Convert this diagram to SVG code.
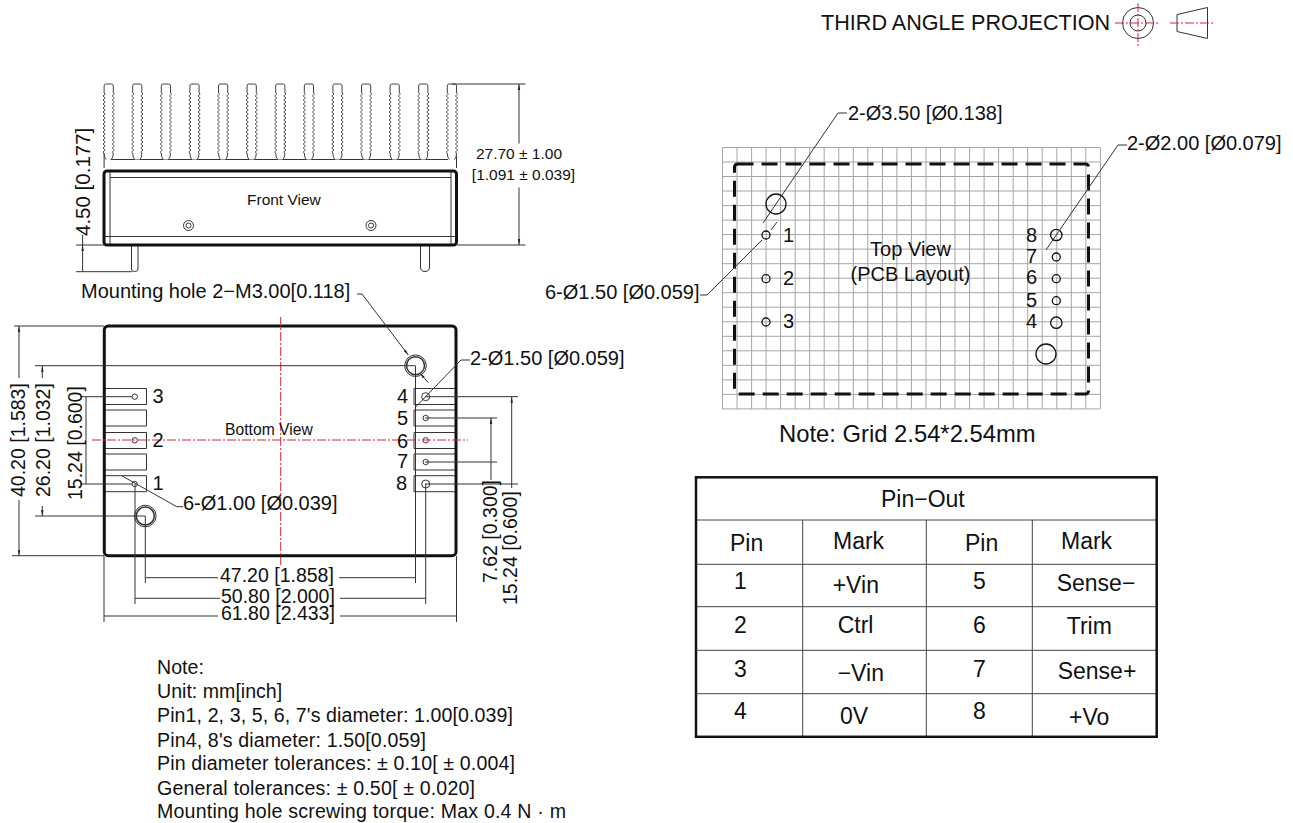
<svg xmlns="http://www.w3.org/2000/svg" width="1293" height="823" viewBox="0 0 1293 823">
<style>
text{font-family:"Liberation Sans",Arial,sans-serif;fill:#111;font-size:20px}
.s15{font-size:15.500px}.s23{font-size:23px}.d{font-size:19.500px}.n{font-size:19.600px}
.l{fill:none;stroke:#333;stroke-width:1}
.h{fill:none;stroke:#111;stroke-width:3;stroke-linejoin:round}
.p{fill:#fff;stroke:#333;stroke-width:1}
.b{fill:none;stroke:#111;stroke-width:1.300}
.r{fill:none;stroke:#d0283c;stroke-width:1;stroke-dasharray:9 2 2 2}
.grid{fill:none;stroke:#a5a5a5;stroke-width:1}
.t{fill:none;stroke:#444;stroke-width:1}
.a{marker-start:url(#arr)}
</style>
<defs>
<marker id="arr" viewBox="0 0 6 4" refX="0" refY="2" markerWidth="6" markerHeight="4" markerUnits="userSpaceOnUse" orient="auto"><path d="M0 2L6 0.800V3.200Z" fill="#222"/></marker>
<path id="fin" fill="#fff" stroke="#444" stroke-width="1" d="M-2.500 159.500Q-4.600 158-4.600 153q-2.200-1 0-2t0-2t0-2t0-2t0-2t0-2t0-2t0-2t0-2t0-2t0-2t0-2t0-2t0-2t0-2t0-2t0-2t0-2t0-2t0-2t0-2t0-2t0-2t0-2t0-2t0-2t0-2t0-2t0-2t0-2V86Q-4.600 84-3 84H3Q4.600 84 4.600 86V93q2.200 1 0 2t0 2t0 2t0 2t0 2t0 2t0 2t0 2t0 2t0 2t0 2t0 2t0 2t0 2t0 2t0 2t0 2t0 2t0 2t0 2t0 2t0 2t0 2t0 2t0 2t0 2t0 2t0 2t0 2t0 2Q4.600 158 2.500 159.500"/>
</defs>

<g id="projection-symbol">
<text x="821" y="30" style="font-size:21.600px">THIRD ANGLE PROJECTION</text>
<circle class="l" cx="1138" cy="23" r="15.500"/><circle class="l" cx="1138" cy="23" r="8"/>
<path class="l" d="M1177 14.500L1207.500 7.500V38.500L1177 31.500Z"/>
<path class="r" d="M1115 23H1160M1138 3V46M1170 23H1213"/>
</g>

<g id="front-view">
<path class="l" d="M110 159.500H448M104.100 153V168M456.500 153V168"/>
<use href="#fin" x="108.700"/><use href="#fin" x="137.300"/><use href="#fin" x="165.900"/><use href="#fin" x="194.500"/><use href="#fin" x="223.100"/><use href="#fin" x="251.700"/><use href="#fin" x="280.300"/><use href="#fin" x="308.900"/><use href="#fin" x="337.500"/><use href="#fin" x="366.100"/><use href="#fin" x="394.700"/><use href="#fin" x="423.300"/><use href="#fin" x="451.900"/>
<path class="p" d="M131.500 245V269Q131.500 271.500 134.500 271.500Q138 271.500 138 269V245M420.500 245V267Q420.500 271.500 425 271.500Q429.500 271.500 429.500 267V245Z"/>
<path class="l" d="M110 177.500H451M104.500 236.500H456M110 172V244M451 172V244"/>
<rect class="h" x="104" y="171" width="352.500" height="74" rx="3"/>
<circle class="l" cx="188.500" cy="225.500" r="5"/><circle class="l" cx="188.500" cy="225.500" r="2.500"/>
<circle class="l" cx="371" cy="225.500" r="5"/><circle class="l" cx="371" cy="225.500" r="2.500"/>
<text class="s15" x="247" y="205">Front View</text>
</g>

<g id="bottom-view">
<path class="l" d="M104 388.500H146.500V404.500H104M104 410H146.500V426H104M104 432.500H146.500V448.500H104M104 454H146.500V470H104M104 475.700H146.500V491.700H104"/>
<path class="l" d="M456 388.500H414V404.500H456M456 410H414V426H456M456 432.500H414V448.500H456M456 454H414V470H456M456 475.700H414V491.700H456"/>
<circle class="l" cx="134.700" cy="396.700" r="2.700"/><circle class="l" cx="134.700" cy="440.300" r="2.700"/><circle class="l" cx="134.700" cy="484" r="2.700"/>
<circle class="l" cx="425.700" cy="396.700" r="4"/><circle class="l" cx="425.700" cy="418" r="2.700"/><circle class="l" cx="425.700" cy="440.300" r="2.700"/><circle class="l" cx="425.700" cy="462" r="2.700"/><circle class="l" cx="425.700" cy="484" r="4"/>
<circle class="l" cx="145.300" cy="516" r="10.800"/><circle class="l" cx="145.300" cy="516" r="9" style="stroke-width:1.500px"/>
<circle class="l" cx="415.500" cy="365.700" r="10.800"/><circle class="l" cx="415.500" cy="365.700" r="9" style="stroke-width:1.500px"/>
<rect class="h" x="104.300" y="326" width="351.700" height="229.700" rx="4"/>
<path class="r" d="M280.700 317V565M92 440H468"/>
<text class="s15" x="225" y="435" style="font-size:15.700px">Bottom View</text>
<text x="152.500" y="403">3</text><text x="152.500" y="446.700">2</text><text x="152.500" y="490">1</text>
<text x="397" y="403.300">4</text><text x="397" y="425">5</text><text x="397" y="447.700">6</text><text x="397" y="468">7</text><text x="396" y="490">8</text>
</g>

<g id="top-view">
<path class="grid" d="M722.500 147.500H1100M722.500 162H1100M722.500 176.500H1100M722.500 191H1100M722.500 205.600H1100M722.500 220.100H1100M722.500 234.600H1100M722.500 249.100H1100M722.500 263.700H1100M722.500 278.200H1100M722.500 292.700H1100M722.500 307.200H1100M722.500 321.800H1100M722.500 336.300H1100M722.500 350.800H1100M722.500 365.300H1100M722.500 379.900H1100M722.500 394.400H1100M722.500 408.900H1100"/>
<path class="grid" d="M722.500 147.500V409M737 147.500V409M751.600 147.500V409M766.100 147.500V409M780.600 147.500V409M795.200 147.500V409M809.700 147.500V409M824.200 147.500V409M838.800 147.500V409M853.300 147.500V409M867.800 147.500V409M882.400 147.500V409M896.900 147.500V409M911.400 147.500V409M926 147.500V409M940.500 147.500V409M955 147.500V409M969.600 147.500V409M984.100 147.500V409M998.600 147.500V409M1013.200 147.500V409M1027.700 147.500V409M1042.200 147.500V409M1056.800 147.500V409M1071.300 147.500V409M1085.800 147.500V409M1100.400 147.500V409"/>
<rect x="734.500" y="164" width="354" height="230" rx="3" fill="none" stroke="#111" stroke-width="3" stroke-dasharray="16 8"/>
<circle class="b" cx="776" cy="204" r="10"/><circle class="b" cx="1046" cy="354" r="10"/>
<circle class="b" cx="766" cy="235" r="4"/><circle class="b" cx="766" cy="278.700" r="4"/><circle class="b" cx="766" cy="322" r="4"/>
<circle class="b" cx="1056.300" cy="235" r="5.700"/><circle class="b" cx="1056.300" cy="257" r="4"/><circle class="b" cx="1056.300" cy="278.700" r="4"/><circle class="b" cx="1056.300" cy="300.700" r="4"/><circle class="b" cx="1056.300" cy="322.700" r="5.700"/>
<text x="783" y="241.700">1</text><text x="783" y="285">2</text><text x="783" y="328">3</text>
<text x="1026" y="241.700">8</text><text x="1026" y="263">7</text><text x="1026" y="284">6</text><text x="1026" y="306.700">5</text><text x="1026" y="327.700">4</text>
<text x="910.500" y="256" text-anchor="middle">Top View</text>
<text x="910.500" y="280.700" text-anchor="middle">(PCB Layout)</text>
<text x="779" y="442" style="font-size:23.800px">Note: Grid 2.54*2.54mm</text>
</g>

<g id="connectors">
<g class="l">
<path d="M14 326H104M12 555.700H104M35 365.700H415M35 516H145"/>
<path class="a" d="M19 326V378"/><path class="a" d="M19 555.700V500"/>
<path class="a" d="M42.300 366V378"/><path class="a" d="M42.300 516V506"/>
<path d="M80 396.700H132M80 484H132M86 396.700V484"/>
<path d="M425 396.700H518M425 484H518M425 418H497M425 462H497"/>
<path class="a" d="M491 418V480"/><path class="a" d="M511.700 396.700V488"/>
<path d="M145.300 516V583M145.300 577.700H218M339 577.700H415.500M415.500 365.700V583"/>
<path d="M135 484V604M135 598.300H220M340 598.300H425.700M425.700 484V604"/>
<path d="M104 556V622M104 616H218M340 616H456M456.500 556V622"/>
<path class="a" d="M408.300 355L362 294H357"/><path class="a" d="M420 373.300L428.300 382.700"/>
<path d="M470 360H461L415 407.700"/>
<path d="M121.700 475.700L176.700 506.700H183"/>
<path d="M452 84H525.500M457 245H525.500"/>
<path class="a" d="M519 84V143.500"/><path class="a" d="M519 245V187.500"/>
<path d="M76 245H104M76 271.700H132"/>
<path class="a" d="M82.600 245V271.700"/>
<path d="M82.600 235V245"/>
<path d="M847 113H838L763 223"/>
<path d="M1127 145H1118L1046 250"/>
<path d="M700 295H707L762 240M771 230L777 222"/>
</g>
</g>

<g id="dimension-labels">
<text class="d" transform="translate(25 497) rotate(-90)">40.20 [1.583]</text>
<text class="d" transform="translate(50 497) rotate(-90)">26.20 [1.032]</text>
<text class="d" transform="translate(82 500) rotate(-90)">15.24 [0.600]</text>
<text class="d" transform="translate(496.500 583) rotate(-90)">7.62 [0.300]</text>
<text class="d" transform="translate(516.500 605) rotate(-90)">15.24 [0.600]</text>
<text transform="translate(90 236) rotate(-90)" style="font-size:20.500px">4.50 [0.177]</text>
<text class="s15" x="519" y="159" text-anchor="middle">27.70 ± 1.00</text>
<text class="s15" x="523.500" y="180" text-anchor="middle">[1.091 ± 0.039]</text>
<text class="d" x="220" y="582">47.20 [1.858]</text>
<text class="d" x="221" y="603">50.80 [2.000]</text>
<text class="d" x="221" y="620">61.80 [2.433]</text>
<text x="81" y="298">Mounting hole 2−M3.00[0.118]</text>
<text x="470" y="364.500">2-Ø1.50 [Ø0.059]</text>
<text x="183" y="510">6-Ø1.00 [Ø0.039]</text>
<text x="848" y="119.500">2-Ø3.50 [Ø0.138]</text>
<text x="1127" y="150">2-Ø2.00 [Ø0.079]</text>
<text x="545" y="299">6-Ø1.50 [Ø0.059]</text>
</g>

<g id="pin-out-table">
<path class="t" d="M696 520H1157M696 564.300H1157M696 606.700H1157M696 650.300H1157M696 693.700H1157M802.700 520V737M926.300 520V737M1032.300 520V737"/>
<rect x="696" y="477.300" width="460.700" height="259.500" fill="none" stroke="#111" stroke-width="2.500"/>
<text class="s23" x="881" y="506.700">Pin−Out</text>
<text class="s23" x="730" y="551">Pin</text><text class="s23" x="833" y="549.300">Mark</text><text class="s23" x="965" y="551">Pin</text><text class="s23" x="1061" y="549.300">Mark</text>
<text class="s23" x="734" y="589.300">1</text><text class="s23" x="832.700" y="593.300">+Vin</text><text class="s23" x="973" y="589.300">5</text><text class="s23" x="1056.700" y="591">Sense−</text>
<text class="s23" x="734" y="632.700">2</text><text class="s23" x="837.700" y="633">Ctrl</text><text class="s23" x="973" y="632.700">6</text><text class="s23" x="1066.700" y="634">Trim</text>
<text class="s23" x="734" y="676.700">3</text><text class="s23" x="837.700" y="680.700">−Vin</text><text class="s23" x="973" y="676.700">7</text><text class="s23" x="1057.700" y="678.700">Sense+</text>
<text class="s23" x="734" y="719.300">4</text><text class="s23" x="840" y="724">0V</text><text class="s23" x="973" y="719.300">8</text><text class="s23" x="1069" y="725">+Vo</text>
</g>

<g id="notes">
<text class="n" x="157" y="674">Note:</text>
<text class="n" x="157" y="698.300">Unit: mm[inch]</text>
<text class="n" x="157" y="722.300" textLength="356">Pin1, 2, 3, 5, 6, 7's diameter: 1.00[0.039]</text>
<text class="n" x="157" y="746.700" textLength="269">Pin4, 8's diameter: 1.50[0.059]</text>
<text class="n" x="157" y="770" textLength="358">Pin diameter tolerances:   ± 0.10[ ± 0.004]</text>
<text class="n" x="157" y="795" textLength="318">General tolerances:   ± 0.50[ ± 0.020]</text>
<text class="n" x="157" y="818.300" textLength="409">Mounting hole screwing torque: Max 0.4 N · m</text>
</g>
</svg>
